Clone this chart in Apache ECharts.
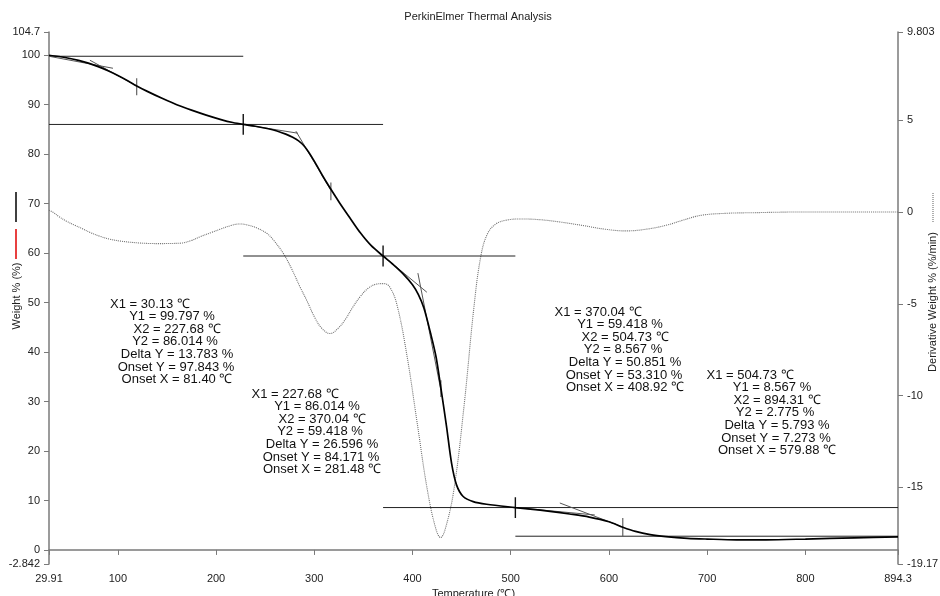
<!DOCTYPE html>
<html lang="en">
<head>
<meta charset="UTF-8">
<title>PerkinElmer Thermal Analysis</title>
<style>
  html, body { margin: 0; padding: 0; background: #fff; }
  #chartContainer { width: 940px; height: 596px; }
</style>
<script src="https://cdnjs.cloudflare.com/ajax/libs/echarts/6.0.0/echarts.min.js"></script>
</head>
<body>
<div id="chartContainer"></div>
<script>
// TGA weight curve: [temperature (C), weight %]
const weightCurve = [
  [29.91, 100], [40, 99.75], [50, 99.4], [60, 98.95], [70, 98.4], [80, 97.7], [90, 96.85],
  [100, 95.9], [110, 94.85], [119.2, 93.8], [130, 92.7], [145, 91.3], [160, 90.0], [175, 88.9],
  [190, 87.9], [205, 87.0], [217, 86.4], [227.68, 86.014], [240, 85.65], [252, 85.2], [262, 84.7],
  [271, 84.05], [278, 83.4], [284, 82.7], [289, 81.8], [294, 80.5], [300, 78.6], [308, 75.8],
  [316.9, 72.9], [326, 70.1], [336, 67.2], [346.9, 64.1], [358, 61.5], [370.04, 59.418],
  [380, 57.75], [390, 55.9], [400, 53.6], [406, 51.6], [411.6, 48.9], [418.4, 43.8], [424, 39.0],
  [428.9, 32.7], [434.7, 24.9], [439.8, 17.5], [444.9, 13.1], [451.6, 10.8], [461.8, 9.76],
  [475.4, 9.23], [504.73, 8.567], [520, 8.25], [540, 7.8], [560, 7.27], [580, 6.65], [600, 5.7],
  [614.1, 4.6], [627, 3.75], [642, 3.1], [658, 2.7], [680, 2.35], [700, 2.2], [730, 2.05],
  [760, 2.05], [800, 2.2], [850, 2.45], [894.3, 2.65]
];

// derivative weight: [temperature (C), %/min]
const derivCurve = [
  [29.91, 0.1], [35, -0.05], [40, -0.25], [47.7, -0.5], [56, -0.72], [64.3, -0.92], [72, -1.12],
  [81.6, -1.32], [92, -1.48], [102.1, -1.58], [120, -1.68], [140, -1.72], [163.3, -1.7],
  [175, -1.55], [183.6, -1.35], [195, -1.12], [205, -0.92], [215, -0.74], [224.3, -0.65],
  [233, -0.72], [242, -0.88], [251.5, -1.16], [258, -1.5], [268.4, -2.25], [277, -3.1],
  [285.4, -4.07], [292.2, -4.8], [301, -5.8], [308, -6.35], [316, -6.62], [324, -6.35],
  [331.6, -5.85], [339, -5.2], [346.9, -4.6], [355, -4.15], [363, -3.93], [370.7, -3.9],
  [377, -4.1], [384.4, -5.1], [394.6, -7.9], [404.8, -11.5], [415, -15.1], [423.5, -17.2],
  [428.6, -17.73], [433.7, -17.2], [442.2, -15.1], [452.4, -10.6], [462.6, -5.16], [469.4, -2.46],
  [476.2, -1.2], [485, -0.65], [495, -0.45], [510, -0.38], [530, -0.42], [551, -0.55],
  [575, -0.75], [595, -0.93], [617, -1.03], [640, -0.92], [660, -0.7], [675, -0.45],
  [694, -0.18], [720, -0.07], [745, -0.04], [796, 0], [894.3, 0]
];

const xTicks = [29.91, 100, 200, 300, 400, 500, 600, 700, 800, 894.3];
const weightTicks = [-2.842, 0, 10, 20, 30, 40, 50, 60, 70, 80, 90, 100, 104.7];
const derivTicks = [-19.17, -15, -10, -5, 0, 5, 9.803];

// step analysis results: [X1, Y1, X2, Y2]
const steps = [
  [30.13, 99.797, 227.68, 86.014],
  [227.68, 86.014, 370.04, 59.418],
  [370.04, 59.418, 504.73, 8.567],
  [504.73, 8.567, 894.31, 2.775]
];

// onset tangent segments: [[x, y], [x, y]]
const tangents = [
  [[29.91, 99.797], [95.05, 97.37]], [[71.6, 98.99], [119.2, 93.8]],
  [[227.68, 86.014], [283.3, 84.24]], [[281.3, 84.65], [316.9, 72.7]],
  [[370.04, 59.418], [414.6, 52.1]], [[405.5, 55.96], [428.9, 32.3]],
  [[504.73, 8.567], [585.6, 7.07]], [[550.0, 9.49], [614.1, 4.65]]
];

// mid-step markers: [x, yTop, yBottom]
const midTicks = [
  [119.2, 95.35, 91.9], [316.9, 74.3, 70.7], [428.9, 34.3, 30.9], [614.1, 6.46, 2.775]
];

const stepTexts = [
  ['X1 = 30.13 \u2103', 'Y1 = 99.797 %', 'X2 = 227.68 \u2103', 'Y2 = 86.014 %', 'Delta Y = 13.783 %', 'Onset Y = 97.843 %', 'Onset X = 81.40 \u2103'],
  ['X1 = 227.68 \u2103', 'Y1 = 86.014 %', 'X2 = 370.04 \u2103', 'Y2 = 59.418 %', 'Delta Y = 26.596 %', 'Onset Y = 84.171 %', 'Onset X = 281.48 \u2103'],
  ['X1 = 370.04 \u2103', 'Y1 = 59.418 %', 'X2 = 504.73 \u2103', 'Y2 = 8.567 %', 'Delta Y = 50.851 %', 'Onset Y = 53.310 %', 'Onset X = 408.92 \u2103'],
  ['X1 = 504.73 \u2103', 'Y1 = 8.567 %', 'X2 = 894.31 \u2103', 'Y2 = 2.775 %', 'Delta Y = 5.793 %', 'Onset Y = 7.273 %', 'Onset X = 579.88 \u2103']
];

const FONT = '"Liberation Sans", Arial, sans-serif';
const AXIS_GRAY = '#7a7a7a';
const DERIV_GRAY = '#6e6e6e';

var chartDom = document.getElementById('chartContainer');
var myChart = echarts.init(chartDom);

function segment(points, color, width, yAxisIndex) {
  return {
    type: 'line',
    data: points,
    yAxisIndex: yAxisIndex || 0,
    symbol: 'none',
    silent: true,
    lineStyle: { color: color, width: width },
    z: 3
  };
}

const series = [];

// horizontal step lines (Y1 and Y2 from X1 to X2)
steps.forEach(function (s, i) {
  const xStart = i === 0 ? 29.91 : s[0];
  series.push(segment([[xStart, s[1]], [s[2], s[1]]], '#222', 1));
  series.push(segment([[xStart, s[3]], [s[2], s[3]]], '#222', 1));
});

tangents.forEach(function (t) {
  series.push(segment(t, '#555', 1));
});

// step boundary markers
steps.slice(0, 3).forEach(function (s) {
  series.push(segment([[s[2], s[3] + 2.1], [s[2], s[3] - 2.1]], '#111', 1.4));
});

midTicks.forEach(function (m) {
  series.push(segment([[m[0], m[1]], [m[0], m[2]]], '#555', 1.1));
});

series.push({
  name: 'Derivative Weight',
  type: 'line',
  yAxisIndex: 1,
  data: derivCurve,
  smooth: 0.4,
  symbol: 'none',
  silent: true,
  lineStyle: { color: DERIV_GRAY, width: 1.1, type: [1, 1] },
  z: 2
});

series.push({
  name: 'Weight',
  type: 'line',
  data: weightCurve,
  smooth: 0.3,
  symbol: 'none',
  silent: true,
  lineStyle: { color: '#000', width: 1.7 },
  z: 5
});

// annotation text blocks
const blockPos = [[177, 304], [322, 394], [625, 312], [777, 375]];
const lineDx = [-27, -5, 0, -2, 0, -1, 0];
const lineDy = [0, 12, 25, 37, 50.5, 63, 75.5];

const graphics = [];
stepTexts.forEach(function (lines, b) {
  lines.forEach(function (txt, i) {
    graphics.push({
      type: 'text',
      x: blockPos[b][0] + lineDx[i],
      y: blockPos[b][1] + lineDy[i],
      silent: true,
      style: {
        text: txt, font: '13px ' + FONT, fill: '#111',
        textAlign: 'center', textVerticalAlign: 'middle',
        align: 'center', verticalAlign: 'middle'
      }
    });
  });
});

function label(txt, x, y, size, rot) {
  return {
    type: 'text', x: x, y: y, rotation: rot || 0, silent: true,
    style: {
      text: txt, font: size + 'px ' + FONT, fill: '#222',
      textAlign: 'center', textVerticalAlign: 'middle',
      align: 'center', verticalAlign: 'middle'
    }
  };
}

graphics.push(label('PerkinElmer Thermal Analysis', 478, 17, 11));
graphics.push(label('Weight % (%)', 17, 296, 11, Math.PI / 2));
graphics.push(label('Derivative Weight % (%/min)', 933, 302, 11, Math.PI / 2));

// series key marks next to axis names
graphics.push({ type: 'line', silent: true, shape: { x1: 16, y1: 192, x2: 16, y2: 222 }, style: { stroke: '#000', lineWidth: 1.5 } });
graphics.push({ type: 'line', silent: true, shape: { x1: 16, y1: 229, x2: 16, y2: 259 }, style: { stroke: '#e00000', lineWidth: 1.5 } });
graphics.push({ type: 'line', silent: true, shape: { x1: 933, y1: 193, x2: 933, y2: 223 }, style: { stroke: DERIV_GRAY, lineWidth: 1.1, lineDash: [1, 1] } });

const axisLabelStyle = { fontSize: 11, color: '#222', fontFamily: FONT, margin: 9 };

const option = {
  animation: false,
  backgroundColor: '#fff',
  grid: { left: 49, right: 42, top: 32, bottom: 32, containLabel: false, outerBoundsMode: 'none' },
  xAxis: {
    type: 'value',
    min: 29.91,
    max: 894.3,
    name: 'Temperature (\u2103)',
    nameLocation: 'middle',
    nameGap: 22,
    nameTextStyle: { fontSize: 11, color: '#222', fontFamily: FONT },
    axisLine: { show: true, lineStyle: { color: AXIS_GRAY, width: 1.5 } },
    axisTick: { show: true, length: 5, customValues: xTicks, lineStyle: { color: AXIS_GRAY } },
    axisLabel: Object.assign({ customValues: xTicks }, axisLabelStyle),
    splitLine: { show: false }
  },
  yAxis: [
    {
      type: 'value',
      min: -2.842,
      max: 104.7,
      position: 'left',
      axisLine: { show: true, lineStyle: { color: AXIS_GRAY, width: 1.5 } },
      axisTick: { show: true, length: 5, customValues: weightTicks, lineStyle: { color: AXIS_GRAY } },
      axisLabel: Object.assign({ customValues: weightTicks }, axisLabelStyle),
      splitLine: { show: false }
    },
    {
      type: 'value',
      min: -19.17,
      max: 9.803,
      position: 'right',
      axisLine: { show: true, lineStyle: { color: AXIS_GRAY, width: 1.5 } },
      axisTick: { show: true, length: 5, customValues: derivTicks, lineStyle: { color: AXIS_GRAY } },
      axisLabel: Object.assign({ customValues: derivTicks }, axisLabelStyle),
      splitLine: { show: false }
    }
  ],
  graphic: graphics,
  series: series
};

myChart.setOption(option);
</script>
</body>
</html>
